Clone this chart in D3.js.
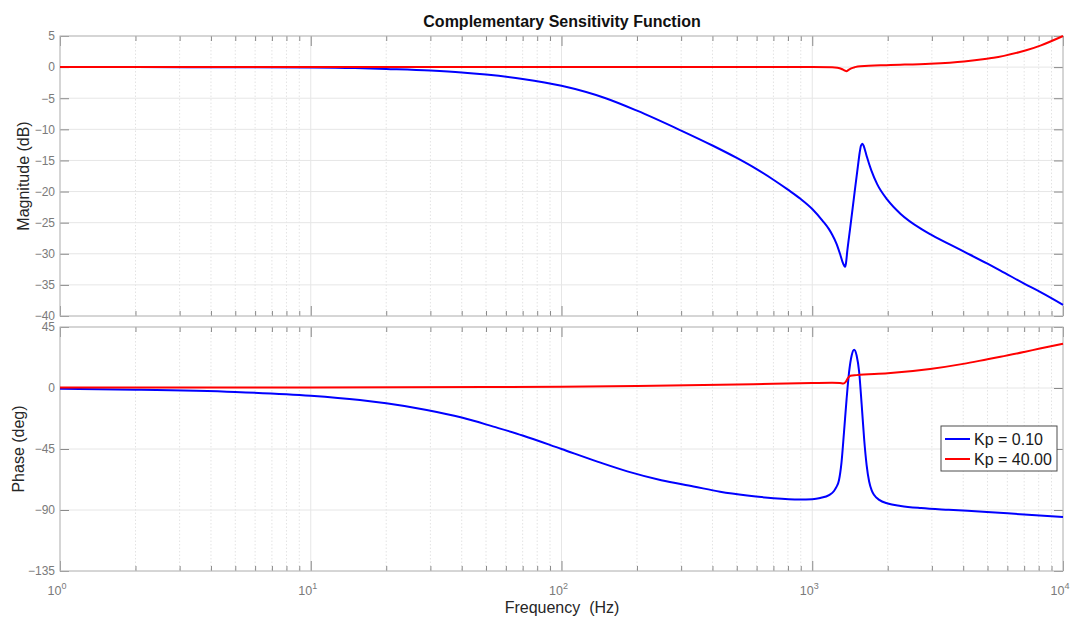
<!DOCTYPE html>
<html>
<head>
<meta charset="utf-8">
<script src="https://cdn.jsdelivr.net/npm/d3@7"></script>
<style>
  body { margin: 0; background: #fff; }
  svg { display: block; }
  text { font-family: "Liberation Sans", Arial, Helvetica, sans-serif; }
</style>
</head>
<body>
<svg id="chart" width="1075" height="617"></svg>
<script>
// ---- Data -------------------------------------------------------------
// Magnitude (dB), Kp = 0.10
const magFreqBlue = [1, 2, 5, 10, 15, 20, 30, 40, 50, 70, 100, 150, 200, 300, 400, 500, 600, 700, 800, 900,
  1000, 1100, 1164, 1200, 1250, 1290, 1320, 1340, 1352, 1362, 1380, 1414, 1450, 1484, 1520, 1545, 1565, 1585,
  1605, 1630, 1654, 1720, 1815, 1992, 2252, 2717, 3000, 3870, 5000, 5630, 7000, 8170, 10000];
const magBlue = [0, 0, -0.02, -0.06, -0.15, -0.3, -0.55, -0.85, -1.2, -1.9, -3.0, -5.0, -7.0, -10.2, -12.6, -14.6, -16.4, -18.1, -19.7, -21.2,
  -22.8, -24.7, -26.0, -26.9, -28.4, -30.0, -31.3, -31.9, -32.1, -31.6, -29.5, -26.1, -22.6, -19.3, -16.0, -13.8, -12.6, -12.3,
  -12.7, -13.6, -14.5, -16.6, -18.8, -21.3, -23.6, -26.0, -27.0, -29.3, -31.6, -32.7, -34.8, -36.2, -38.2];

// Magnitude (dB), Kp = 40.00
const magFreqRed = [1, 10, 100, 1000, 1200, 1260, 1310, 1345, 1370, 1395, 1430, 1480, 1555, 2050, 2950, 4030, 4970, 5290, 6680, 7130, 8170, 10000];
const magRed = [0, 0, 0, 0, -0.02, -0.1, -0.3, -0.55, -0.65, -0.45, -0.2, 0.0, 0.15, 0.33, 0.55, 0.92, 1.35, 1.5, 2.4, 2.7, 3.5, 5.0];

// Phase (deg), Kp = 0.10
const phFreqBlue = [1, 2, 5, 10, 15.7, 20, 29, 40, 53.5, 70, 100, 140, 183, 250, 336, 429, 550, 700, 890, 1000,
  1076, 1167, 1221, 1249, 1278, 1308, 1338, 1371, 1403, 1436, 1469, 1503, 1538, 1574, 1611, 1648, 1686, 1726,
  1766, 1849, 2000, 2252, 2717, 3500, 4970, 7000, 10000];
const phBlue = [-0.6, -1.2, -2.9, -5.7, -8.9, -11.3, -16.2, -21.8, -28.5, -35.0, -45.0, -54.5, -61.5, -68.0, -72.6, -76.5, -79.3, -81.3, -82.3, -82.0,
  -81.1, -79.0, -76.0, -73.0, -68.0, -55.0, -33.0, -8.0, 12.0, 24.0, 28.2, 24.0, 12.0, -12.0, -38.0, -57.0, -69.0, -75.5,
  -79.0, -82.5, -85.2, -87.0, -88.6, -89.9, -91.4, -93.3, -95.1];

// Phase (deg), Kp = 40.00
const phFreqRed = [1, 10, 50, 100, 200, 429, 700, 1000, 1200, 1290, 1330, 1360, 1390, 1420, 1500, 2000, 2950, 4000, 5000, 5630, 7000, 8000, 10000];
const phRed = [0.3, 0.4, 0.7, 0.9, 1.5, 2.4, 3.1, 3.6, 3.8, 3.6, 3.3, 4.5, 7.5, 9.0, 9.5, 10.8, 14.0, 17.8, 21.2, 23.0, 26.6, 28.9, 32.7];

const magTicks = [5, 0, -5, -10, -15, -20, -25, -30, -35, -40];
const phaseTicks = [45, 0, -45, -90, -135];
const decades = [1, 10, 100, 1000, 10000];
const decadeExponents = ["0", "1", "2", "3", "4"];
const seriesNames = ["Kp = 0.10", "Kp = 40.00"];
const seriesColors = ["#0000ff", "#ff0000"];

// ---- Layout -----------------------------------------------------------
const svg = d3.select("#chart");
const left = 60, right = 1063;
const magBox = { top: 36, bottom: 316 };
const phBox = { top: 327, bottom: 571 };

const x = d3.scaleLog().domain([1, 10000]).range([left, right]);
const yMag = d3.scaleLinear().domain([-40, 5]).range([magBox.bottom, magBox.top]);
const yPh = d3.scaleLinear().domain([-135, 45]).range([phBox.bottom, phBox.top]);

const minorFreqs = [];
decades.slice(0, -1).forEach(d => { for (let k = 2; k <= 9; k++) minorFreqs.push(d * k); });

const tickColor = "#8a8a8a";
const boxColor = "#b8b8b8";

function drawPanel(y, box, ticks, id) {
  const g = svg.append("g");
  // grid
  g.append("g").selectAll("line").data(minorFreqs).join("line")
    .attr("x1", d => x(d)).attr("x2", d => x(d))
    .attr("y1", box.top).attr("y2", box.bottom)
    .attr("stroke", "#e3e3e3").attr("stroke-width", 1).attr("stroke-dasharray", "1.5,2");
  g.append("g").selectAll("line").data(decades).join("line")
    .attr("x1", d => x(d)).attr("x2", d => x(d))
    .attr("y1", box.top).attr("y2", box.bottom)
    .attr("stroke", "#e6e6e6").attr("stroke-width", 1);
  g.append("g").selectAll("line").data(ticks).join("line")
    .attr("x1", left).attr("x2", right)
    .attr("y1", d => y(d)).attr("y2", d => y(d))
    .attr("stroke", "#e6e6e6").attr("stroke-width", 1);

  // y ticks, left (labelled) and right
  const yl = g.append("g").attr("transform", `translate(${left},0)`)
    .call(d3.axisLeft(y).tickValues(ticks).tickSize(-9).tickPadding(5).tickFormat(d3.format("d")));
  const yr = g.append("g").attr("transform", `translate(${right},0)`)
    .call(d3.axisRight(y).tickValues(ticks).tickSize(-9).tickFormat(""));
  // x ticks, bottom and top: decades long, minors short
  const xb = g.append("g").attr("transform", `translate(0,${box.bottom})`)
    .call(d3.axisBottom(x).tickValues(decades).tickSize(-10).tickFormat(""));
  const xbm = g.append("g").attr("transform", `translate(0,${box.bottom})`)
    .call(d3.axisBottom(x).tickValues(minorFreqs).tickSize(-5).tickFormat(""));
  const xt = g.append("g").attr("transform", `translate(0,${box.top})`)
    .call(d3.axisTop(x).tickValues(decades).tickSize(-10).tickFormat(""));
  const xtm = g.append("g").attr("transform", `translate(0,${box.top})`)
    .call(d3.axisTop(x).tickValues(minorFreqs).tickSize(-5).tickFormat(""));
  [yl, yr, xb, xbm, xt, xtm].forEach(a => {
    a.select(".domain").remove();
    a.selectAll(".tick line").attr("stroke", tickColor);
  });
  yl.selectAll(".tick text").attr("fill", "#7a7a7a").style("font-size", "12px")
    .style("font-family", "'Liberation Sans', Arial, sans-serif");

  // box
  g.append("rect").attr("x", left).attr("y", box.top)
    .attr("width", right - left).attr("height", box.bottom - box.top)
    .attr("fill", "none").attr("stroke", boxColor).attr("stroke-width", 1);

  svg.append("clipPath").attr("id", id).append("rect")
    .attr("x", left).attr("y", box.top - 2).attr("width", right - left + 2).attr("height", box.bottom - box.top + 4);
  return g;
}

const gMag = drawPanel(yMag, magBox, magTicks, "clipMag");
const gPh = drawPanel(yPh, phBox, phaseTicks, "clipPh");

// ---- Curves -----------------------------------------------------------
function drawCurve(freqs, vals, y, color, clip) {
  const pts = freqs.map((f, i) => [f, vals[i]]);
  svg.append("path").datum(pts)
    .attr("clip-path", `url(#${clip})`)
    .attr("fill", "none").attr("stroke", color).attr("stroke-width", 2)
    .attr("stroke-linejoin", "round")
    .attr("d", d3.line().x(d => x(d[0])).y(d => y(d[1])).curve(d3.curveMonotoneX));
}
drawCurve(magFreqBlue, magBlue, yMag, seriesColors[0], "clipMag");
drawCurve(magFreqRed, magRed, yMag, seriesColors[1], "clipMag");
drawCurve(phFreqBlue, phBlue, yPh, seriesColors[0], "clipPh");
drawCurve(phFreqRed, phRed, yPh, seriesColors[1], "clipPh");

// ---- X tick labels (powers of ten) ------------------------------------
const xl = svg.append("g").selectAll("text").data(decades).join("text")
  .attr("x", d => x(d) - 3).attr("y", 595)
  .attr("text-anchor", "middle").attr("fill", "#7a7a7a").style("font-size", "12.5px");
xl.append("tspan").text("10");
xl.append("tspan").attr("dy", -6).style("font-size", "9px").text((d, i) => decadeExponents[i]);

// ---- Titles and labels ------------------------------------------------
svg.append("text").attr("x", 562).attr("y", 27).attr("text-anchor", "middle")
  .style("font-size", "16px").style("font-weight", "bold").attr("fill", "#111")
  .text("Complementary Sensitivity Function");
svg.append("text").attr("x", 562).attr("y", 613).attr("text-anchor", "middle")
  .style("font-size", "16px").attr("fill", "#262626").attr("xml:space", "preserve")
  .text("Frequency  (Hz)");
svg.append("text").attr("transform", `translate(29,${(magBox.top + magBox.bottom) / 2}) rotate(-90)`)
  .attr("text-anchor", "middle").style("font-size", "16px").attr("fill", "#262626")
  .text("Magnitude (dB)");
svg.append("text").attr("transform", `translate(23.5,${(phBox.top + phBox.bottom) / 2}) rotate(-90)`)
  .attr("text-anchor", "middle").style("font-size", "16px").attr("fill", "#262626")
  .text("Phase (deg)");

// ---- Legend -----------------------------------------------------------
const lg = svg.append("g");
lg.append("rect").attr("x", 941).attr("y", 426).attr("width", 116).attr("height", 45)
  .attr("fill", "#fff").attr("stroke", "#4d4d4d").attr("stroke-width", 1);
seriesNames.forEach((name, i) => {
  const cy = 439 + i * 20;
  lg.append("line").attr("x1", 945).attr("x2", 970).attr("y1", cy).attr("y2", cy)
    .attr("stroke", seriesColors[i]).attr("stroke-width", 2);
  lg.append("text").attr("x", 974).attr("y", cy + 5.5)
    .style("font-size", "16px").attr("fill", "#1a1a1a").text(name);
});
</script>
</body>
</html>
